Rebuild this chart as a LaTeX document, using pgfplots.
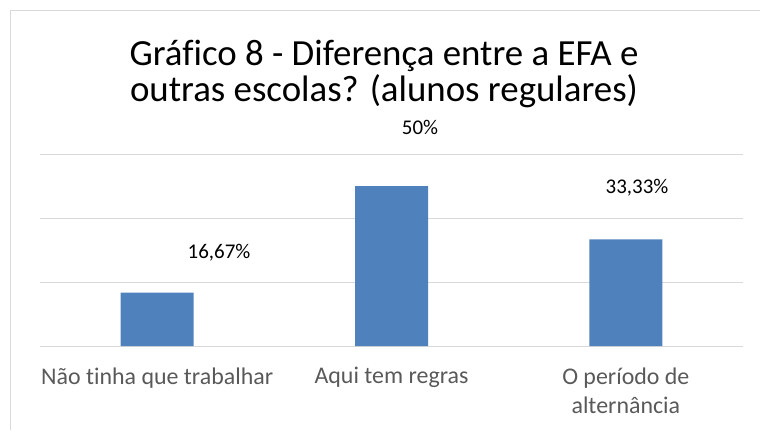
\documentclass[border=0pt]{standalone}
\usepackage{fontspec}
\setmainfont{Carlito}[Ligatures=NoCommon]
\usepackage{pgfplots}
\pgfplotsset{compat=1.18}
\definecolor{barblue}{RGB}{79,129,189}
\definecolor{gridgray}{RGB}{217,217,217}
\definecolor{labgray}{RGB}{89,89,89}
\begin{document}
\begin{tikzpicture}[x=1bp,y=1bp]
\path[use as bounding box] (0,0) rectangle (760,430);
\draw[gridgray, line width=1bp] (10.5,0) -- (10.5,419.5) -- (760,419.5);
\node[anchor=base, inner sep=0pt, font=\fontsize{37}{40}\selectfont] at (384,365) {Gráfico 8 - Diferença entre a EFA e};
\node[anchor=base, inner sep=0pt, font=\fontsize{37}{40}\selectfont] at (384,329) {outras escolas? (alunos regulares)};
\begin{axis}[
  at={(40bp,84bp)}, anchor=south west,
  scale only axis, width=703bp, height=192bp,
  xmin=-0.5, xmax=2.5, ymin=0, ymax=60,
  ytick={0,20,40,60}, yticklabels={},
  ymajorgrids, grid style={gridgray, line width=1bp},
  axis line style={draw=none},
  major tick length=0pt,
  xtick={0,1,2},
  xticklabels={N\~ao tinha que trabalhar, Aqui tem regras, {O período de\\alternância}},
  xticklabel style={font=\fontsize{24}{29}\selectfont, text=labgray, align=center, anchor=north, yshift=-18bp},
  ybar, bar width=73bp,
  clip=false,
]
\addplot[fill=barblue, draw=none] coordinates {(0,16.67) (1,50) (2,33.33)};
\node[font=\fontsize{21}{25}\selectfont] at (axis cs:0.264,29.06) {16,67\%};
\node[font=\fontsize{21}{25}\selectfont] at (axis cs:1.1216,68.4) {50\%};
\node[font=\fontsize{21}{25}\selectfont] at (axis cs:2.0477,49.4) {33,33\%};
\end{axis}
\end{tikzpicture}
\end{document}
